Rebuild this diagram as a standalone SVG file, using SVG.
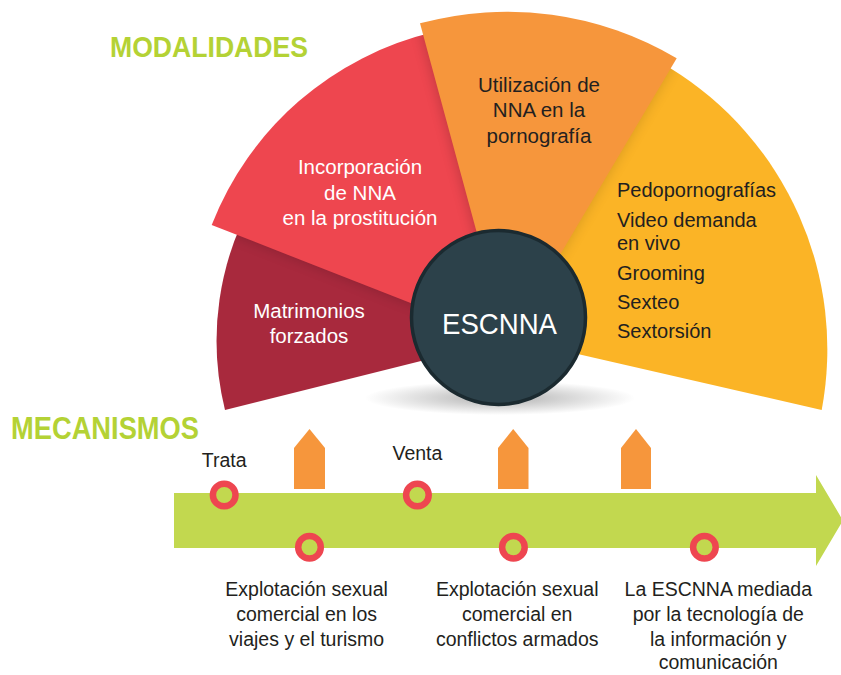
<svg xmlns="http://www.w3.org/2000/svg" width="841" height="675" viewBox="0 0 841 675">
<defs>
<style>
.t{font-family:"Liberation Sans",Arial,sans-serif;font-size:19.5px;fill:#231f20;text-anchor:middle}
.w{fill:#ffffff;font-size:20.5px}
.s{font-size:20.5px}
.l{text-anchor:start;font-size:20px}
.h{font-family:"Liberation Sans",Arial,sans-serif;font-weight:bold;fill:#b4d235}
.ring{fill:#c2d84f;stroke:#ee4650;stroke-width:6.5}
.tag{fill:#f6963c}
</style>
<filter id="blur" x="-20%" y="-20%" width="140%" height="140%"><feGaussianBlur stdDeviation="7"/></filter>
<radialGradient id="sh" cx="50%" cy="50%" r="50%"><stop offset="0" stop-color="#7a7a7a" stop-opacity=".6"/><stop offset="1" stop-color="#7a7a7a" stop-opacity="0"/></radialGradient>
<path id="pDark" d="M505,340 L225,410 A288,288 0 0,1 255.6,196 Z"/>
<path id="pRed" d="M505,340 L211.7,225 A316,316 0 0,1 433.9,32.1 Z"/>
<path id="pOrange" d="M507,344 L420,23.3 A332,332 0 0,1 676.7,58.3 Z"/>
<path id="pYellow" d="M499,336 L821.7,410 A330,330 0 0,0 670,68 Z"/>
<clipPath id="cDark"><use href="#pDark"/></clipPath>
<clipPath id="cRed"><use href="#pRed"/></clipPath>
<clipPath id="cYellow"><use href="#pYellow"/></clipPath>
</defs>

<text class="h" x="110" y="57" font-size="30" textLength="198" lengthAdjust="spacingAndGlyphs">MODALIDADES</text>
<text class="h" x="11" y="439" font-size="31" textLength="188" lengthAdjust="spacingAndGlyphs">MECANISMOS</text>

<ellipse cx="500" cy="398" rx="135" ry="17" fill="url(#sh)"/>

<g id="matrimonios">
<use href="#pDark" fill="#a8293d"/>
<g clip-path="url(#cDark)"><use href="#pRed" fill="#000" opacity=".18" filter="url(#blur)"/></g>
<text class="t w" x="309" y="318">Matrimonios</text>
<text class="t w" x="309" y="343">forzados</text>
</g>

<g id="prostitucion">
<use href="#pRed" fill="#ee464f"/>
<g clip-path="url(#cRed)"><use href="#pOrange" fill="#000" opacity=".22" filter="url(#blur)"/></g>
<text class="t w" x="360" y="174">Incorporación</text>
<text class="t w" x="360" y="200">de NNA</text>
<text class="t w" x="360" y="225">en la prostitución</text>
</g>

<g id="tecnologia">
<use href="#pYellow" fill="#fbb426"/>
<g clip-path="url(#cYellow)"><use href="#pOrange" fill="#000" opacity=".15" filter="url(#blur)"/></g>
<text class="t l" x="617" y="197">Pedopornografías</text>
<text class="t l" x="617" y="227">Video demanda</text>
<text class="t l" x="617" y="250">en vivo</text>
<text class="t l" x="617" y="280">Grooming</text>
<text class="t l" x="617" y="309">Sexteo</text>
<text class="t l" x="617" y="338">Sextorsión</text>
</g>

<g id="pornografia">
<use href="#pOrange" fill="#f6963c"/>
<text class="t s" x="539" y="92">Utilización de</text>
<text class="t s" x="539" y="117">NNA en la</text>
<text class="t s" x="539" y="143">pornografía</text>
</g>

<g id="escnna">
<circle cx="498.5" cy="317.5" r="87" fill="#2c414a" stroke="#1b2a30" stroke-width="3.5"/>
<text x="499.5" y="334" font-family="'Liberation Sans',Arial,sans-serif" font-size="30" fill="#ffffff" text-anchor="middle" textLength="115" lengthAdjust="spacingAndGlyphs">ESCNNA</text>
</g>

<g id="connectors">
<polygon points="174,493 816,493 816,475 843,520.5 816,566 816,548 174,548" fill="#c2d84f"/>
</g>

<g id="tags">
<polygon class="tag" points="294,448 309.5,429 325,448 325,489 294,489"/>
<polygon class="tag" points="498,448 513.2,429 528.5,448 528.5,489 498,489"/>
<polygon class="tag" points="621,448 636,429 651,448 651,489 621,489"/>
</g>

<g id="trata">
<circle class="ring" cx="224.2" cy="495" r="11.3"/>
<text class="t" x="224.2" y="466.5">Trata</text>
</g>
<g id="venta">
<circle class="ring" cx="417.4" cy="495" r="11.3"/>
<text class="t" x="417.4" y="460">Venta</text>
</g>
<g id="viajes">
<circle class="ring" cx="309.5" cy="547.3" r="11.3"/>
<text class="t" x="306.6" y="596">Explotación sexual</text>
<text class="t" x="306.6" y="621">comercial en los</text>
<text class="t" x="306.6" y="646">viajes y el turismo</text>
</g>
<g id="conflictos">
<circle class="ring" cx="513.4" cy="547.3" r="11.3"/>
<text class="t" x="517.2" y="596">Explotación sexual</text>
<text class="t" x="517.2" y="621">comercial en</text>
<text class="t" x="517.2" y="646">conflictos armados</text>
</g>
<g id="tic">
<circle class="ring" cx="704.4" cy="547.3" r="11.3"/>
<text class="t" x="718.3" y="596">La ESCNNA mediada</text>
<text class="t" x="718.3" y="621">por la tecnología de</text>
<text class="t" x="718.3" y="646">la información y</text>
<text class="t" x="718.3" y="669">comunicación</text>
</g>
</svg>
